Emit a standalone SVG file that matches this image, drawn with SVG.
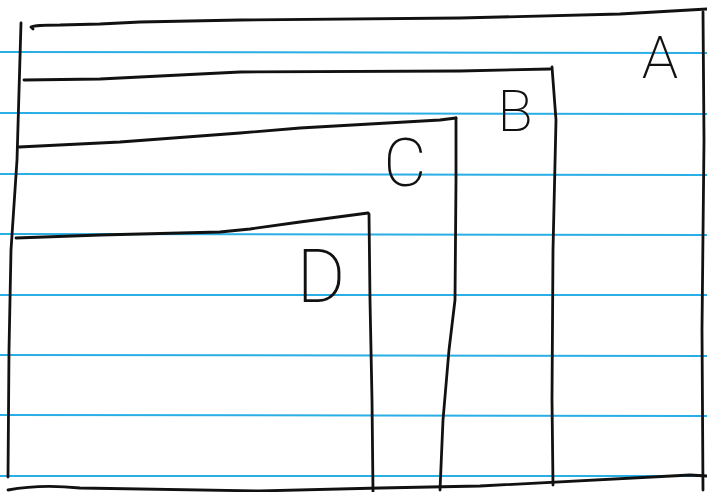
<svg xmlns="http://www.w3.org/2000/svg" width="707" height="492" viewBox="0 0 707 492">
<style>
.rule{stroke:#29aee6;stroke-width:2;fill:none}
.ink{stroke:#111;stroke-width:2.8;fill:none;stroke-linecap:round;stroke-linejoin:round}
.lbl{font-family:Roboto,Lato,"Liberation Sans",sans-serif;font-weight:200;fill:#111;text-anchor:middle}
</style>
<rect width="707" height="492" fill="#fff"/>
<g id="paper">
<line class="rule" x1="0" y1="52" x2="707" y2="53"/>
<line class="rule" x1="0" y1="113" x2="707" y2="114"/>
<line class="rule" x1="0" y1="174" x2="707" y2="175"/>
<line class="rule" x1="0" y1="234" x2="707" y2="235"/>
<line class="rule" x1="0" y1="295" x2="707" y2="295"/>
<line class="rule" x1="0" y1="355" x2="707" y2="356"/>
<line class="rule" x1="0" y1="415" x2="707" y2="416"/>
<line class="rule" x1="0" y1="476" x2="707" y2="476"/>
</g>
<g id="A">
<path class="ink" d="M33,29 L31,27 Q35,25 60,25 L100,24 L140,22 L240,20 L460,18 L620,14 L707,9"/>
<path class="ink" d="M21,23 L17,160 L11,250 L9,350 L8,477"/>
<path class="ink" d="M703,12 L704,140 L702,330 L703,490"/>
<path class="ink" d="M8,490 Q40,484 80,488 L260,491 L380,488 L480,486 L690,475 L707,476"/>
<text class="lbl" x="660" y="78" font-size="60">A</text>
</g>
<g id="B">
<path class="ink" d="M24,80 L100,79 L240,72 L460,71 L550,69"/>
<path class="ink" d="M552,67 L556,120 L553,250 L552,400 L553,485"/>
<text class="lbl" x="515" y="131" font-size="58">B</text>
</g>
<g id="C">
<path class="ink" d="M19,147 L120,142 L240,133 L300,128 L440,120 L456,118"/>
<path class="ink" d="M456,118 L456,180 L455,300 L449,350 L443,420 L440,490"/>
<text class="lbl" x="405" y="186" font-size="66">C</text>
</g>
<g id="D">
<path class="ink" d="M16,238 L100,235 L220,232 L250,229 L300,222 L368,213"/>
<path class="ink" d="M369,214 L370,300 L372,400 L373,492"/>
<text class="lbl" x="321" y="302" font-size="74">D</text>
</g>
</svg>
